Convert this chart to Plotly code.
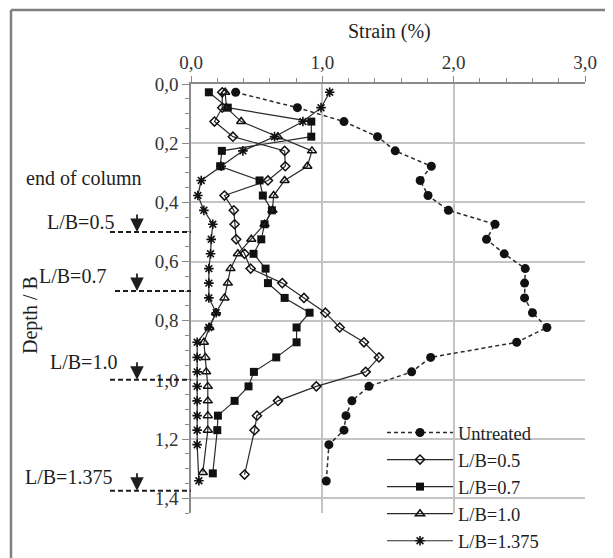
import plotly.graph_objects as go

# ---------------- data ----------------
untreated_depth = [0.028, 0.080, 0.127, 0.178, 0.226, 0.278, 0.326, 0.377, 0.427, 0.474,
                   0.525, 0.574, 0.624, 0.673, 0.723, 0.773, 0.823, 0.873, 0.924, 0.973,
                   1.022, 1.071, 1.121, 1.170, 1.219, 1.342]
untreated_strain = [0.34, 0.81, 1.165, 1.42, 1.555, 1.83, 1.745, 1.805, 1.96, 2.315,
                    2.25, 2.385, 2.545, 2.54, 2.54, 2.60, 2.71, 2.48, 1.825, 1.68,
                    1.355, 1.225, 1.18, 1.165, 1.05, 1.03]

lb05_depth = [0.028, 0.080, 0.127, 0.178, 0.226, 0.278, 0.326, 0.377, 0.427, 0.474,
              0.525, 0.574, 0.624, 0.673, 0.723, 0.773, 0.823, 0.873, 0.924, 0.973,
              1.022, 1.071, 1.121, 1.170, 1.320]
lb05_strain = [0.238, 0.238, 0.179, 0.319, 0.713, 0.718, 0.586, 0.255, 0.326, 0.332,
               0.344, 0.408, 0.454, 0.695, 0.86, 1.023, 1.132, 1.317, 1.431, 1.33,
               0.954, 0.662, 0.502, 0.484, 0.408]

lb07_depth = [0.028, 0.080, 0.127, 0.178, 0.226, 0.278, 0.326, 0.377, 0.427, 0.474,
              0.525, 0.574, 0.624, 0.673, 0.723, 0.773, 0.823, 0.873, 0.924, 0.973,
              1.022, 1.071, 1.121, 1.170, 1.316]
lb07_strain = [0.136, 0.28, 0.916, 0.916, 0.235, 0.222, 0.522, 0.547, 0.616, 0.56,
               0.535, 0.476, 0.568, 0.586, 0.713, 0.903, 0.804, 0.804, 0.649, 0.479,
               0.438, 0.332, 0.205, 0.20, 0.166]

lb10_depth = [0.028, 0.080, 0.127, 0.178, 0.226, 0.278, 0.326, 0.377, 0.427, 0.474,
              0.525, 0.574, 0.624, 0.673, 0.723, 0.773, 0.823, 0.873, 0.924, 0.973,
              1.022, 1.071, 1.121, 1.170, 1.313]
lb10_strain = [0.26, 0.27, 0.382, 0.662, 0.921, 0.886, 0.713, 0.629, 0.62, 0.56,
               0.459, 0.357, 0.301, 0.281, 0.255, 0.19, 0.14, 0.098, 0.11, 0.116,
               0.128, 0.128, 0.128, 0.128, 0.09]

lb1375_depth = [0.028, 0.080, 0.127, 0.178, 0.226, 0.278, 0.326, 0.377, 0.427, 0.474,
                0.525, 0.574, 0.624, 0.673, 0.723, 0.773, 0.823, 0.873, 0.924, 0.973,
                1.022, 1.071, 1.121, 1.170, 1.219, 1.341]
lb1375_strain = [1.056, 0.99, 0.852, 0.636, 0.395, 0.23, 0.078, 0.052, 0.098, 0.166,
                 0.154, 0.149, 0.136, 0.136, 0.136, 0.192, 0.136, 0.047, 0.047, 0.047,
                 0.047, 0.047, 0.047, 0.047, 0.047, 0.06]

column_ends = [0.5, 0.7, 1.0, 1.375]
column_labels = ["L/B=0.5", "L/B=0.7", "L/B=1.0", "L/B=1.375"]

x_ticks = [0, 1, 2, 3]
y_ticks = [0.0, 0.2, 0.4, 0.6, 0.8, 1.0, 1.2, 1.4]

# ---------------- layout geometry ----------------
# the page body adds an 8 px margin, so the figure is drawn 8 px smaller
OFF = 8
W, H = 613 - OFF, 558 - OFF
ML, MT = 191 - OFF, 84 - OFF
MR = W - (585 - OFF)
MB = H - (513 - OFF)
PW, PH = W - ML - MR, H - MT - MB


def px(ref_x):
    return (ref_x - OFF - ML) / PW


def py(ref_y):
    return (H - MB - (ref_y - OFF)) / PH


SERIF = "Liberation Serif, Times New Roman, serif"
INK = "#1e1e1e"
LINE = "#2a2a2a"

fig = go.Figure()

fig.add_trace(go.Scatter(
    x=untreated_strain, y=untreated_depth, name="Untreated", mode="lines+markers",
    line=dict(color=LINE, width=1.5, dash="4px,3px"),
    marker=dict(symbol="circle", size=9, color="#111111")))
fig.add_trace(go.Scatter(
    x=lb05_strain, y=lb05_depth, name="L/B=0.5", mode="lines+markers",
    line=dict(color=LINE, width=1.2),
    marker=dict(symbol="diamond-open", size=7, color="#111111", line=dict(width=1.5))))
fig.add_trace(go.Scatter(
    x=lb07_strain, y=lb07_depth, name="L/B=0.7", mode="lines+markers",
    line=dict(color=LINE, width=1.2),
    marker=dict(symbol="square", size=8, color="#111111")))
fig.add_trace(go.Scatter(
    x=lb10_strain, y=lb10_depth, name="L/B=1.0", mode="lines+markers",
    line=dict(color=LINE, width=1.2),
    marker=dict(symbol="triangle-up-open", size=8, color="#111111", line=dict(width=1.5))))
fig.add_trace(go.Scatter(
    x=lb1375_strain, y=lb1375_depth, name="L/B=1.375", mode="lines+markers",
    line=dict(color=LINE, width=1.2),
    marker=dict(symbol="asterisk-open", size=8, color="#111111", line=dict(width=1.6, color="#111111"))))

shapes = []
annotations = []

# outer frame (top and left edges)
shapes.append(dict(type="line", xref="paper", yref="paper", x0=px(11), x1=px(620),
                   y0=py(10), y1=py(10), line=dict(color="#808080", width=2.5)))
shapes.append(dict(type="line", xref="paper", yref="paper", x0=px(11), x1=px(11),
                   y0=py(10), y1=py(565), line=dict(color="#808080", width=2.5)))

# column end markers
label_pos = {"L/B=0.5": (45, 222), "L/B=0.7": (37, 276), "L/B=1.0": (48, 362), "L/B=1.375": (23, 477)}
dash_start = {"L/B=0.5": 110, "L/B=0.7": 115, "L/B=1.0": 110, "L/B=1.375": 110}
for depth, lab in zip(column_ends, column_labels):
    shapes.append(dict(type="line", xref="paper", yref="y", x0=px(dash_start[lab]), x1=0,
                       y0=depth, y1=depth, line=dict(color=INK, width=2, dash="5px,3px")))
    annotations.append(dict(xref="paper", yref="y", x=px(137), y=depth, ax=0, ay=-19,
                            text="", showarrow=True, arrowhead=2, arrowsize=1.5,
                            arrowwidth=1.8, arrowcolor=INK))
    lx, ly = label_pos[lab]
    annotations.append(dict(xref="paper", yref="paper", x=px(lx), y=py(ly), xanchor="left",
                            yanchor="middle", text=lab, showarrow=False,
                            font=dict(family=SERIF, size=20, color=INK)))

annotations.append(dict(xref="paper", yref="paper", x=px(24), y=py(178), xanchor="left",
                        yanchor="middle", text="end of column", showarrow=False,
                        font=dict(family=SERIF, size=20, color=INK)))
annotations.append(dict(xref="paper", yref="paper", x=px(30), y=py(315), xanchor="center",
                        yanchor="middle", text="Depth / B", textangle=-90, showarrow=False,
                        font=dict(family=SERIF, size=20, color=INK)))
annotations.append(dict(xref="paper", yref="paper", x=px(389), y=py(31), xanchor="center",
                        yanchor="middle", text="Strain (%)", showarrow=False,
                        font=dict(family=SERIF, size=20, color=INK)))

AX = "#8a8a8a"
GRID = "#c4c4c4"
TICKF = dict(family=SERIF, size=19, color="#333333")

fig.update_layout(
    width=W, height=H,
    margin=dict(l=ML, r=MR, t=MT, b=MB, autoexpand=False),
    paper_bgcolor="white", plot_bgcolor="white",
    separators=", ",
    showlegend=True,
    legend=dict(x=px(382), y=py(414), xanchor="left", yanchor="top",
                bgcolor="rgba(0,0,0,0)", borderwidth=0, itemwidth=66,
                font=dict(family=SERIF, size=18.5, color=INK), tracegroupgap=0),
    xaxis=dict(side="top", range=[0, 3], tickvals=x_ticks, tickformat=".1f",
               showline=True, linecolor=AX, linewidth=1.5,
               showgrid=True, gridcolor=GRID, gridwidth=1.5, zeroline=False,
               ticks="outside", ticklen=6, tickwidth=1.2, tickcolor=AX,
               minor=dict(dtick=0.2, ticks="outside", ticklen=4, tickcolor=AX, tickwidth=1.2, showgrid=False),
               tickfont=TICKF, automargin=False),
    yaxis=dict(range=[1.45, 0], tickvals=y_ticks, tickformat=".1f",
               showline=True, linecolor=AX, linewidth=1.5,
               showgrid=True, gridcolor=GRID, gridwidth=1.5, zeroline=False,
               ticks="outside", ticklen=7, tickwidth=1.2, tickcolor=AX,
               minor=dict(dtick=0.05, ticks="outside", ticklen=4, tickcolor=AX, tickwidth=1.2, showgrid=False),
               tickfont=TICKF, automargin=False),
    shapes=shapes,
    annotations=annotations,
)

fig.write_html("out.html")
